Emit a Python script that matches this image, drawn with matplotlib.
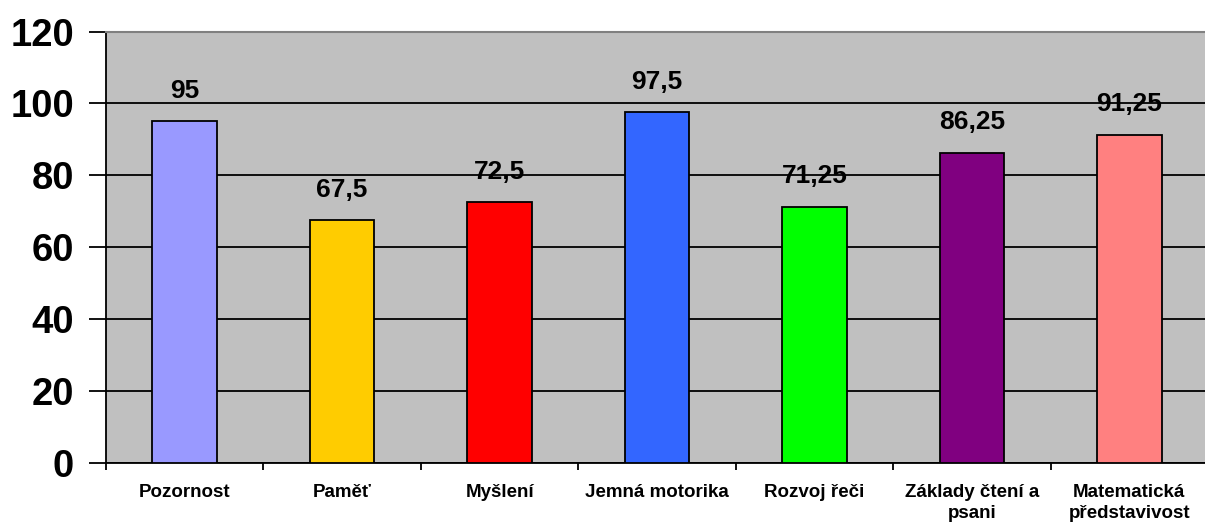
import numpy as np
import matplotlib.pyplot as plt

plt.rcParams['font.family'] = ['Liberation Sans', 'DejaVu Sans']
plt.rcParams['font.weight'] = 'bold'

categories = ['Pozornost', 'Paměť', 'Myšlení', 'Jemná motorika', 'Rozvoj řeči',
              'Základy čtení a\npsani', 'Matematická\npředstavivost']
values = [95, 67.5, 72.5, 97.5, 71.25, 86.25, 91.25]
colors = ['#9999FF', '#FFCC00', '#FF0000', '#3366FF', '#00FF00', '#800080', '#FF8080']
yticks = [0, 20, 40, 60, 80, 100, 120]

W, H = 1205, 522
fig = plt.figure(figsize=(W / 100, H / 100), dpi=100)
ax = fig.add_axes([106 / W, (H - 463) / H, (1208 - 106) / W, (463 - 31.5) / H])
ax.set_facecolor('#C0C0C0')

x = np.arange(len(categories))
ax.bar(x, values, width=0.41, color=colors, edgecolor='black', linewidth=1.3, zorder=3)

for xi, v in zip(x, values):
    txt = ('%g' % v).replace('.', ',')
    ax.text(xi, v + 5.2, txt, ha='center', va='bottom', fontsize=19, fontweight='bold', zorder=4)

ax.set_xlim(-0.5, len(categories) - 0.5)
ax.set_ylim(0, 120)
ax.set_yticks(yticks)
ax.set_yticklabels([str(t) for t in yticks], fontsize=27.5, fontweight='bold')
ax.tick_params(axis='y', direction='out', length=12, width=1.3, pad=11)

ax.set_xticks(x)
ax.set_xticklabels(categories, fontsize=13.5, fontweight='bold', linespacing=1.3)
ax.tick_params(axis='x', length=0, pad=15)
ax.set_xticks(np.arange(len(categories) + 1) - 0.5, minor=True)
ax.tick_params(axis='x', which='minor', direction='out', length=5, width=1.3)

ax.yaxis.grid(True, color='black', linewidth=1.3, zorder=1)
ax.set_axisbelow(True)

ax.spines['left'].set_linewidth(1.3)
ax.spines['bottom'].set_linewidth(1.3)
ax.spines['top'].set_color('#808080')
ax.spines['top'].set_linewidth(1.5)
ax.spines['right'].set_visible(False)

fig.savefig('out.png', dpi=100)
